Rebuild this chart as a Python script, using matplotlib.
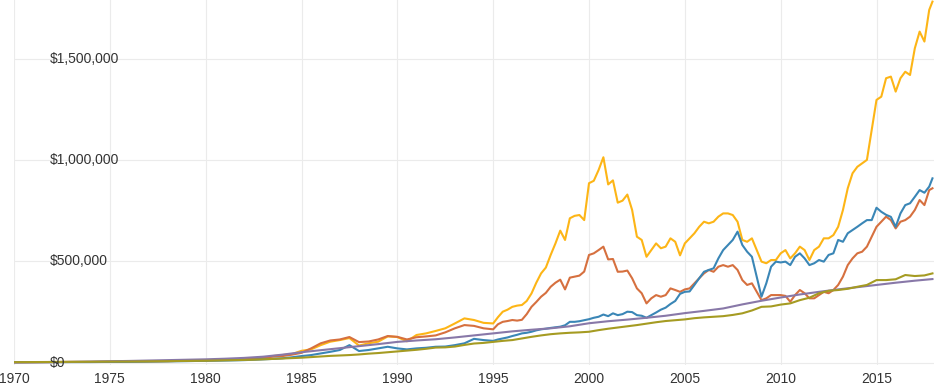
import numpy as np
import matplotlib
matplotlib.use("Agg")
import matplotlib.pyplot as plt

# sample dates (decimal years): yearly, then half-yearly, then quarterly
dates = np.concatenate([np.arange(1970, 1984), np.arange(1983.5, 1995, 0.5),
                        np.arange(1995, 2018, 0.25), [2017.92]])

# values in thousands of dollars
yellow = [3, 3.5, 4, 4, 4, 5, 6, 7, 8, 10, 12, 14, 17, 22,
          33, 38, 43, 59, 66, 87, 104, 112, 122, 85, 96, 104, 130, 127, 106, 137, 145, 157, 170, 194, 219, 211, 197,
          194, 225, 252, 262,
          276, 282, 285, 305,
          342, 395, 441, 470,
          532, 589, 652, 606,
          713, 725, 729, 704,
          886, 898, 951, 1014,
          880, 900, 790, 800,
          830, 754, 622, 606,
          523, 556, 589, 565,
          573, 614, 597, 530,
          589, 614, 639, 671,
          696, 688, 696, 721,
          737, 737, 729, 696,
          606, 597, 614, 556,
          499, 491, 507, 507,
          540, 556, 515, 540,
          573, 556, 507, 556,
          573, 614, 614, 630,
          671, 754, 861, 935,
          967, 984, 1001, 1149,
          1297, 1313, 1404, 1412,
          1338, 1404, 1436, 1420,
          1552, 1634, 1585, 1741,
          1782]

orange = [3, 3.5, 4, 4, 4, 5, 6, 7, 8, 10, 12, 14, 17, 25,
          30, 33, 40, 49, 71, 96, 110, 115, 127, 102, 105, 115, 132, 128, 115, 126, 130, 135, 150, 170, 186, 182, 170,
          165, 190, 202, 206,
          211, 208, 212, 240,
          276, 300, 326, 345,
          375, 395, 410, 362,
          420, 425, 430, 450,
          532, 540, 556, 573,
          510, 512, 449, 450,
          455, 417, 367, 343,
          293, 318, 334, 326,
          334, 367, 359, 350,
          362, 367, 392, 417,
          441, 458, 449, 474,
          482, 474, 482, 458,
          408, 384, 392, 350,
          309, 318, 334, 334,
          334, 330, 301, 334,
          359, 343, 318, 318,
          334, 350, 343, 359,
          384, 425, 482, 515,
          540, 548, 573, 622,
          671, 696, 721, 704,
          663, 696, 704, 721,
          754, 803, 778, 852,
          861]

blue = [3, 3, 3.5, 3.5, 3.5, 4, 5, 6, 7, 8, 10, 11, 13, 17,
        19, 22, 27, 33, 38, 46, 54, 63, 87, 58, 63, 71, 79, 71, 66, 71, 74, 79, 80, 87, 96, 118, 112,
        108, 115, 120, 125,
        132, 138, 145, 148,
        153, 160, 165, 168,
        172, 175, 178, 185,
        202, 202, 205, 210,
        215, 222, 227, 238,
        230, 244, 235, 240,
        252, 250, 235, 232,
        222, 235, 248, 262,
        272, 290, 305, 340,
        350, 352, 384, 417,
        449, 458, 466, 515,
        556, 581, 606, 647,
        581, 548, 523, 425,
        326, 392, 474, 499,
        495, 499, 482, 523,
        540, 515, 482, 491,
        507, 499, 532, 540,
        606, 597, 639, 655,
        671, 688, 704, 704,
        765, 745, 730, 720,
        671, 737, 778, 787,
        819, 852, 839, 869,
        910]

olive_dates = np.concatenate([np.arange(1970, 1983), np.arange(1982.5, 2018, 0.5), [2017.92]])
olive = [3, 3.5, 4, 4.5, 5, 5.5, 6, 7, 8, 9, 10, 12, 14,
         15, 17, 19, 21, 23, 25, 28, 31, 34, 36, 38, 41, 45, 48, 52, 56, 60, 64, 69, 75, 76, 80, 88, 95, 98,
         103, 108, 112, 120, 128, 135, 141, 145, 148, 150, 153, 161, 168, 174, 180, 186, 193, 200, 206, 210,
         214, 220, 224, 227, 230, 236, 244, 258, 276, 278, 287, 293, 309, 321, 343, 355, 359, 365, 375, 384,
         408, 408, 412, 433, 428, 431, 441]

purple_dates = np.concatenate([np.arange(1970, 2018), [2017.92]])
purple = [1, 2, 3, 4.5, 6, 7.5, 9, 11, 13, 15, 17, 20, 24, 30, 40, 52, 62, 72, 82, 92,
          103, 110, 116, 125, 135, 145, 155, 163, 170, 180, 195, 205, 213, 222, 232, 245, 256, 268, 288, 306,
          322, 337, 350, 362, 373, 384, 395, 405, 413]

y_ticks = [0, 500000, 1000000, 1500000]
y_labels = ["$0", "$500,000", "$1,000,000", "$1,500,000"]
x_ticks = list(range(1970, 2016, 5))

plt.rcParams['font.family'] = ['Liberation Sans', 'DejaVu Sans']

fig = plt.figure(figsize=(9.37, 3.89), dpi=100)
ax = fig.add_axes([14 / 937, 24 / 389, 920 / 937, 365 / 389])

k = 1000
ax.plot(dates, np.array(yellow) * k, color="#fdb516", lw=1.5, zorder=3)
ax.plot(dates, np.array(orange) * k, color="#d6703f", lw=1.5, zorder=3)
ax.plot(dates, np.array(blue) * k, color="#3a86b6", lw=1.5, zorder=3)
ax.plot(purple_dates, np.array(purple) * k, color="#8878a8", lw=1.5, zorder=3)
ax.plot(olive_dates, np.array(olive) * k, color="#a59b22", lw=1.5, zorder=3)

ax.set_xlim(1970, 2018)
ax.set_ylim(-11000, 1790000)

ax.set_xticks(x_ticks)
ax.set_xticklabels([str(t) for t in x_ticks])
ax.set_yticks(y_ticks)
ax.set_yticklabels([])
ax.tick_params(length=0, labelsize=10, labelcolor="#333333", pad=5)
ax.grid(True, color="#ebebeb", lw=0.8)
ax.set_axisbelow(True)
for s in ax.spines.values():
    s.set_visible(False)

for v, lab in zip(y_ticks, y_labels):
    ax.text(36 / 920, v, lab, transform=ax.get_yaxis_transform(), ha="left", va="center",
            fontsize=10, color="#333333", zorder=5, clip_on=False)

fig.savefig("out.png", dpi=100)
